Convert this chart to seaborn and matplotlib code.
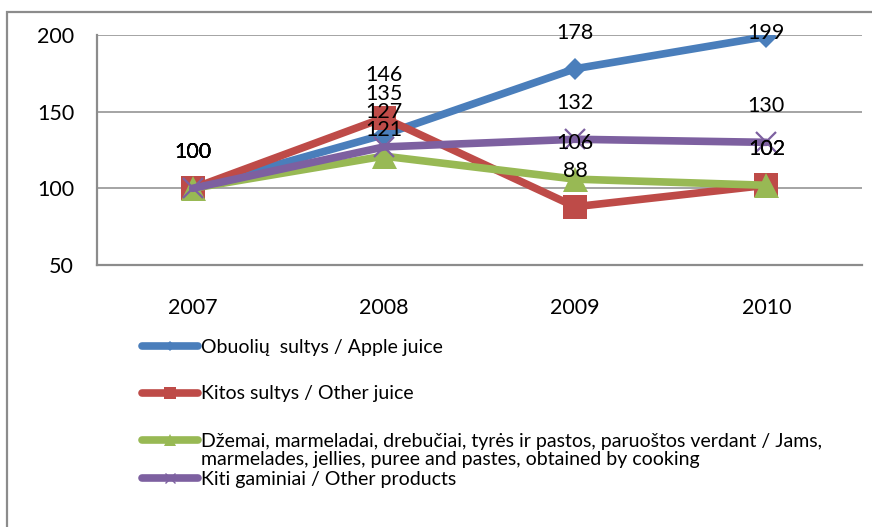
"""Index chart of fruit/vegetable product output, 2007 = 100."""

import matplotlib.pyplot as plt
import pandas as pd
import seaborn as sns
from matplotlib.lines import Line2D
from matplotlib.patches import Rectangle

YEARS = ["2007", "2008", "2009", "2010"]
APPLE_JUICE = [100, 135, 178, 199]
OTHER_JUICE = [100, 146, 88, 102]
JAMS = [100, 121, 106, 102]
OTHER_PRODUCTS = [100, 127, 132, 130]

SERIES_LABELS = [
    "Obuolių  sultys / Apple juice",
    "Kitos sultys / Other juice",
    "Džemai, marmeladai, drebučiai, tyrės ir pastos, paruoštos verdant / Jams,",
    "Kiti gaminiai / Other products",
]
JAMS_SECOND_LINE = "marmelades, jellies, puree and pastes, obtained by cooking"
Y_TICKS = [50, 100, 150, 200]

COLORS = ["#4A7EBB", "#BE4B48", "#98B954", "#7D60A0"]
MARKERS = ["D", "s", "^", "x"]
MARKER_SIZES = [11, 17, 18, 15]

GRID = "#8C8C8C"
NUM_FONT = ["Lato", "DejaVu Sans"]
LEGEND_FONT = ["Lato", "DejaVu Sans"]


def spread_labels(ys, gap, n_iter=60):
    """Push label heights apart so distinct ones are at least `gap` apart."""
    uniq = sorted(set(ys), reverse=True)
    pos = {u: u for u in uniq}
    for _ in range(n_iter):
        for a, b in zip(uniq[:-1], uniq[1:]):
            d = pos[a] - pos[b]
            if d < gap:
                shift = (gap - d) / 2
                pos[a] += shift
                pos[b] -= shift
    return [pos[y] for y in ys]


sns.set_style("white")
plt.rcParams.update({"text.color": "black", "xtick.color": "black",
                     "ytick.color": "black"})

values = [APPLE_JUICE, OTHER_JUICE, JAMS, OTHER_PRODUCTS]
df = pd.concat(
    [pd.DataFrame({"year": YEARS, "value": v, "series": lab})
     for v, lab in zip(values, SERIES_LABELS)],
    ignore_index=True,
)

fig = plt.figure(figsize=(8.72, 5.27), dpi=100)
ax = fig.add_axes([97 / 872, 1 - 265 / 527, 765 / 872, 230 / 527])

for i, lab in enumerate(SERIES_LABELS):
    sub = df[df["series"] == lab]
    sns.lineplot(
        data=sub, x="year", y="value", ax=ax, color=COLORS[i],
        linewidth=5.5, marker=MARKERS[i], markersize=MARKER_SIZES[i],
        markeredgewidth=1.6 if MARKERS[i] == "x" else 0,
        markeredgecolor=COLORS[i], sort=False, legend=False, zorder=3 + i,
    )

# data labels sit above each point, nudged apart where they crowd,
# and the top one is kept inside the plot
offset = 23.5
for j in range(len(YEARS)):
    col = [v[j] for v in values]
    ys = spread_labels([val + offset for val in col], gap=12)
    for val, y in zip(col, ys):
        ax.text(j, min(y, 201.3), str(val), ha="center", va="center",
                fontsize=15.5, family=NUM_FONT, color="black", zorder=10)

ax.set_xlim(-0.5, len(YEARS) - 0.5)
ax.set_ylim(Y_TICKS[0], Y_TICKS[-1])
ax.set_yticks(Y_TICKS)
ax.set_xticks(range(len(YEARS)))
ax.set_xticklabels(YEARS)
ax.set_xticks([x - 0.5 for x in range(len(YEARS) + 1)], minor=True)
ax.set_xlabel("")
ax.set_ylabel("")
ax.grid(axis="y", color=GRID, linewidth=1.1)
ax.grid(axis="x", visible=False)
ax.set_axisbelow(True)

for side in ["top", "right"]:
    ax.spines[side].set_visible(False)
for side in ["left", "bottom"]:
    ax.spines[side].set_color(GRID)
    ax.spines[side].set_linewidth(1.6)
    ax.spines[side].set_zorder(2)

ax.tick_params(axis="y", length=6.5, width=1.6, color=GRID, pad=10,
               labelsize=15.5, labelcolor="black")
ax.tick_params(axis="x", which="major", length=0, pad=24, labelsize=15.5,
               labelcolor="black")
ax.tick_params(axis="x", which="minor", length=5, width=1.6, color=GRID)
for t in ax.get_xticklabels() + ax.get_yticklabels():
    t.set_family(NUM_FONT)

# legend entries, one per row, below the plot
legend_rows = [347, 394, 441, 479]
for i, (lab, y) in enumerate(zip(SERIES_LABELS, legend_rows)):
    handle = Line2D([], [], color=COLORS[i], linewidth=5.5, marker=MARKERS[i],
                    markersize=MARKER_SIZES[i] * 0.5, markeredgecolor=COLORS[i],
                    markeredgewidth=1.0 if MARKERS[i] == "x" else 0,
                    solid_capstyle="round")
    fig.legend(handles=[handle], labels=[lab], loc="center left",
               bbox_to_anchor=(142 / 872, 1 - y / 527), frameon=False,
               borderpad=0, borderaxespad=0, handlelength=2.9,
               handletextpad=0.15, prop={"family": LEGEND_FONT, "size": 14})
fig.text(201 / 872, 1 - 460 / 527, JAMS_SECOND_LINE, ha="left", va="center",
         family=LEGEND_FONT, fontsize=14)

# chart frame (only its top and left edges fall inside the picture)
fig.patches.append(Rectangle((7 / 872, -0.1), 1.2, 1.1 - 12 / 527,
                             transform=fig.transFigure, fill=False,
                             edgecolor=GRID, linewidth=1.6))

fig.savefig("out.png", dpi=100)
